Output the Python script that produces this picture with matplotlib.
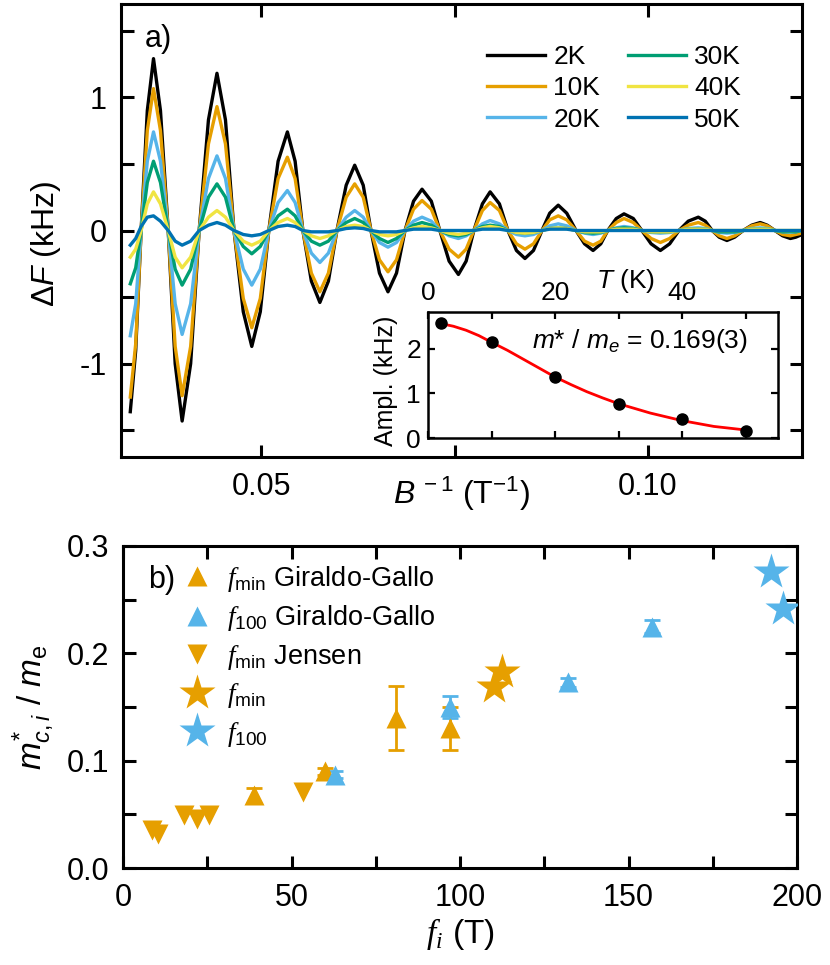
import matplotlib.pyplot as plt
from matplotlib.ticker import MultipleLocator, FormatStrFormatter

plt.rcParams['font.family'] = ['Liberation Sans', 'DejaVu Sans']
plt.rcParams['mathtext.fontset'] = 'custom'
plt.rcParams['mathtext.rm'] = 'Liberation Sans'
plt.rcParams['mathtext.it'] = 'Liberation Sans:italic'
plt.rcParams['mathtext.bf'] = 'Liberation Sans:bold'
plt.rcParams['mathtext.cal'] = 'Liberation Serif:italic'
plt.rcParams['axes.unicode_minus'] = False
plt.rcParams['axes.linewidth'] = 2.2

# ---- panel a) : oscillations (extrema, flanks, zero crossings) ----
inv_b = [0.0331, 0.0338, 0.0345, 0.0353, 0.0361, 0.0370, 0.0380, 0.0389, 0.0398, 0.0409,
         0.0420, 0.0432, 0.0443, 0.0454, 0.0465, 0.0477, 0.0488, 0.0499, 0.0510, 0.0522,
         0.0534, 0.0544, 0.0554, 0.0565, 0.0576, 0.0587, 0.0598, 0.0610, 0.0621, 0.0632,
         0.0642, 0.0653, 0.0664, 0.0675, 0.0686, 0.0697, 0.0708, 0.0720, 0.0731, 0.0743,
         0.0755, 0.0765, 0.0775, 0.0786, 0.0796, 0.0808, 0.0819, 0.0830, 0.0841, 0.0852,
         0.0863, 0.0873, 0.0884, 0.0895, 0.0907, 0.0918, 0.0929, 0.0939, 0.0948, 0.0959,
         0.0969, 0.0981, 0.0992, 0.1004, 0.1016, 0.1028, 0.1040, 0.1052, 0.1065, 0.1074,
         0.1083, 0.1092, 0.1102, 0.1112, 0.1123, 0.1134, 0.1145, 0.1154, 0.1164, 0.1174,
         0.1184, 0.1191, 0.1199]
dF_2K = [-1.36, -0.90, 0,
         0.90, 1.29, 0.90, 0, -1.00, -1.43, -1.00, 0,
         0.83, 1.18, 0.83, 0, -0.61, -0.87, -0.61, 0,
         0.52, 0.74, 0.52, 0, -0.38, -0.54, -0.38, 0,
         0.34, 0.49, 0.34, 0, -0.32, -0.46, -0.32, 0,
         0.22, 0.31, 0.22, 0, -0.23, -0.33, -0.23, 0,
         0.20, 0.29, 0.20, 0, -0.15, -0.21, -0.15, 0,
         0.13, 0.19, 0.13, 0, -0.10, -0.15, -0.10, 0,
         0.09, 0.125, 0.09, 0, -0.10, -0.15, -0.10, 0,
         0.07, 0.10, 0.07, 0, -0.05, -0.075, -0.05, 0,
         0.04, 0.06, 0.04, 0, -0.04, -0.06, -0.05, -0.03]
dF_10K = [-1.25, -0.85, 0,
          0.75, 1.065, 0.75, 0, -0.87, -1.24, -0.87, 0,
          0.65, 0.93, 0.65, 0, -0.51, -0.73, -0.51, 0,
          0.39, 0.55, 0.39, 0, -0.32, -0.46, -0.32, 0,
          0.25, 0.35, 0.25, 0, -0.22, -0.31, -0.22, 0,
          0.16, 0.225, 0.16, 0, -0.14, -0.20, -0.14, 0,
          0.15, 0.21, 0.15, 0, -0.10, -0.14, -0.10, 0,
          0.08, 0.11, 0.08, 0, -0.08, -0.11, -0.08, 0,
          0.06, 0.09, 0.06, 0, -0.06, -0.09, -0.06, 0,
          0.04, 0.06, 0.04, 0, -0.04, -0.06, -0.04, 0,
          0.035, 0.05, 0.035, 0, -0.03, -0.04, -0.03, -0.02]
dF_20K = [-0.79, -0.55, 0,
          0.52, 0.74, 0.52, 0, -0.55, -0.78, -0.55, 0,
          0.39, 0.56, 0.39, 0, -0.29, -0.41, -0.29, 0,
          0.21, 0.30, 0.21, 0, -0.17, -0.24, -0.17, 0,
          0.10, 0.15, 0.10, 0, -0.09, -0.125, -0.09, 0,
          0.07, 0.10, 0.07, 0, -0.04, -0.06, -0.04, 0,
          0.05, 0.075, 0.05, 0, -0.03, -0.04, -0.03, 0,
          0.035, 0.05, 0.035, 0, -0.02, -0.03, -0.02, 0,
          0.02, 0.03, 0.02, 0, -0.015, -0.02, -0.015, 0,
          0.015, 0.02, 0.015, 0, -0.015, -0.02, -0.015, 0,
          0.015, 0.02, 0.015, 0, -0.01, -0.01, -0.01, 0.0]
dF_30K = [-0.40, -0.28, 0,
          0.36, 0.52, 0.36, 0, -0.29, -0.41, -0.29, 0,
          0.25, 0.35, 0.25, 0, -0.12, -0.175, -0.12, 0,
          0.11, 0.16, 0.11, 0, -0.08, -0.11, -0.08, 0,
          0.06, 0.09, 0.06, 0, -0.06, -0.09, -0.06, 0,
          0.04, 0.06, 0.04, 0, -0.03, -0.04, -0.03, 0,
          0.03, 0.04, 0.03, 0, -0.015, -0.02, -0.015, 0,
          0.015, 0.02, 0.015, 0, -0.015, -0.02, -0.015, 0,
          0.015, 0.02, 0.015, 0, -0.01, -0.01, -0.01, 0,
          0.01, 0.01, 0.01, 0, -0.01, -0.01, -0.01, 0,
          0.01, 0.01, 0.01, 0, -0.01, -0.01, -0.01, 0.0]
dF_40K = [-0.20, -0.14, 0,
          0.20, 0.29, 0.20, 0, -0.20, -0.28, -0.20, 0,
          0.10, 0.15, 0.10, 0, -0.08, -0.11, -0.08, 0,
          0.06, 0.09, 0.06, 0, -0.04, -0.06, -0.04, 0,
          0.03, 0.04, 0.03, 0, -0.03, -0.04, -0.03, 0,
          0.02, 0.03, 0.02, 0, -0.02, -0.03, -0.02, 0,
          0.02, 0.03, 0.02, 0, -0.015, -0.02, -0.015, 0,
          0.015, 0.02, 0.015, 0, -0.01, -0.01, -0.01, 0,
          0.01, 0.01, 0.01, 0, -0.01, -0.01, -0.01, 0,
          0.01, 0.01, 0.01, 0, 0.0, 0.0, 0.0, 0,
          0.01, 0.01, 0.01, 0, 0.0, 0.0, 0.0, 0.0]
dF_50K = [-0.11, -0.06, 0.03,
          0.10, 0.11, 0.07, 0, -0.08, -0.11, -0.08, 0,
          0.04, 0.06, 0.04, 0, -0.03, -0.04, -0.03, 0,
          0.03, 0.04, 0.03, 0, -0.01, -0.01, -0.01, 0,
          0.015, 0.02, 0.015, 0, -0.01, -0.01, -0.01, 0,
          0.01, 0.01, 0.01, 0, 0.0, 0.0, 0.0, 0,
          0.01, 0.01, 0.01, 0, 0.0, 0.0, 0.0, 0,
          0.01, 0.01, 0.01, 0, 0.0, 0.0, 0.0, 0,
          0.0, 0.0, 0.0, 0, 0.0, 0.0, 0.0, 0,
          0.0, 0.0, 0.0, 0, 0.0, 0.0, 0.0, 0,
          0.0, 0.0, 0.0, 0, 0.0, 0.0, 0.0, 0.0]
temp_labels = ['2K', '10K', '20K', '30K', '40K', '50K']
curve_colors = ['black', '#E69F00', '#56B4E9', '#009E73', '#F0E442', '#0072B2']

# inset: amplitude vs temperature + fit line
temps_K = [2, 10, 20, 30, 40, 50]
ampl_kHz = [2.59, 2.16, 1.37, 0.77, 0.42, 0.16]
fit_T = [2, 4, 6, 8, 10, 12.5, 15, 17.5, 20, 22.5, 25, 27.5, 30, 35, 40, 45, 50]
fit_A = [2.57, 2.51, 2.42, 2.30, 2.15, 1.97, 1.77, 1.57, 1.37, 1.20, 1.04, 0.90, 0.77, 0.56,
         0.39, 0.26, 0.18]

# ---- panel b) : effective masses ----
gg_min_f = [39, 60, 81, 97]
gg_min_m = [0.068, 0.090, 0.140, 0.130]
gg_min_err = [0.007, 0.003, 0.030, 0.020]
gg_100_f = [63, 97, 132, 157]
gg_100_m = [0.087, 0.150, 0.173, 0.225]
gg_100_err = [0.003, 0.010, 0.004, 0.006]
jensen_f = [8.5, 10.5, 18, 22, 25.5, 53.5]
jensen_m = [0.035, 0.032, 0.049, 0.046, 0.049, 0.071]
star_min_f = [110, 112.5]
star_min_m = [0.169, 0.183]
star_100_f = [192.3, 195.8]
star_100_m = [0.276, 0.241]

orange = '#E69F00'
blue = '#56B4E9'

fig = plt.figure(figsize=(8.3, 9.65), dpi=100)

# ---------------- top panel ----------------
ax1 = fig.add_axes([121/830, 1-457/965, 681/830, 453/965])
series = [dF_2K, dF_10K, dF_20K, dF_30K, dF_40K, dF_50K]
for vals, lab, col in zip(series, temp_labels, curve_colors):
    ax1.plot(inv_b, vals, color=col, lw=2.4, label=lab)
ax1.set_xlim(0.0319, 0.1199)
ax1.set_ylim(-1.7, 1.7)
ax1.xaxis.set_major_locator(MultipleLocator(0.05))
ax1.xaxis.set_minor_locator(MultipleLocator(0.025))
ax1.yaxis.set_major_locator(MultipleLocator(1))
ax1.yaxis.set_minor_locator(MultipleLocator(0.5))
ax1.xaxis.set_major_formatter(FormatStrFormatter('%.2f'))
ax1.yaxis.set_major_formatter(FormatStrFormatter('%d'))
ax1.tick_params(which='both', direction='in', top=True, right=True, length=9, width=2.2,
                labelsize=22)
ax1.tick_params(axis='x', pad=11)
ax1.tick_params(axis='y', pad=10)
ax1.set_xlabel(r'$B^{\,-1}$ (T$^{-1}$)', fontsize=23)
ax1.xaxis.set_label_coords(0.5, -0.04)
ax1.set_ylabel(r'$\Delta F$ (kHz)', fontsize=23)
ax1.yaxis.set_label_coords(-0.085, 0.47)
ax1.text(0.035, 0.955, 'a)', transform=ax1.transAxes, fontsize=22, va='top')
ax1.legend(ncol=2, loc='upper right', bbox_to_anchor=(0.91, 0.91), frameon=False,
           fontsize=19, handlelength=2.2, handletextpad=0.3, labelspacing=0.28,
           columnspacing=1.05, borderpad=0, borderaxespad=0)

# inset
ax2 = fig.add_axes([428/830, 1-438/965, 350/830, 126/965])
ax2.set_facecolor('white')
ax2.plot(fit_T, fit_A, color='red', lw=2, zorder=2)
ax2.plot(temps_K, ampl_kHz, 'o', color='black', ms=8, zorder=3)
ax2.set_xlim(0, 55.1)
ax2.set_ylim(0, 2.83)
ax2.xaxis.set_major_locator(MultipleLocator(20))
ax2.xaxis.set_minor_locator(MultipleLocator(10))
ax2.yaxis.set_major_locator(MultipleLocator(1))
for sp in ax2.spines.values():
    sp.set_linewidth(1.8)
ax2.tick_params(which='both', direction='in', top=True, bottom=True, left=True, right=True,
                labeltop=True, labelbottom=False, length=5, width=1.6, labelsize=19, pad=5)
ax2.xaxis.set_label_position('top')
ax2.set_xlabel(r'$T$ (K)', fontsize=19)
ax2.xaxis.set_label_coords(0.563, 1.19)
ax2.set_ylabel('Ampl. (kHz)', fontsize=18)
ax2.yaxis.set_label_coords(-0.085, 0.45)
ax2.text(0.915, 0.77, r'$m$* / $m_e$ = 0.169(3)', transform=ax2.transAxes, fontsize=19,
         ha='right', va='center')

# ---------------- bottom panel ----------------
ax3 = fig.add_axes([123/830, 1-868/965, 674/830, 322/965])
eb_kw = dict(fmt='none', elinewidth=2, capsize=6, capthick=2, zorder=2)
ax3.errorbar(gg_min_f, gg_min_m, yerr=gg_min_err, ecolor=orange, **eb_kw)
ax3.errorbar(gg_100_f, gg_100_m, yerr=gg_100_err, ecolor=blue, **eb_kw)
ax3.plot(gg_min_f, gg_min_m, ls='none', marker='^', ms=15, color=orange, mec='none',
         label=r'$\mathcal{f}_\mathrm{min}$ Giraldo-Gallo', zorder=3)
ax3.plot(gg_100_f, gg_100_m, ls='none', marker='^', ms=15, color=blue, mec='none',
         label=r'$\mathcal{f}_\mathrm{100}$ Giraldo-Gallo', zorder=3)
ax3.plot(jensen_f, jensen_m, ls='none', marker='v', ms=15, color=orange, mec='none',
         label=r'$\mathcal{f}_\mathrm{min}$ Jensen', zorder=3)
ax3.plot(star_min_f, star_min_m, ls='none', marker='*', ms=27, color=orange, mec='none',
         label=r'$\mathcal{f}_\mathrm{min}$', zorder=3)
ax3.plot(star_100_f, star_100_m, ls='none', marker='*', ms=27, color=blue, mec='none',
         label=r'$\mathcal{f}_\mathrm{100}$', zorder=3)
ax3.set_xlim(0, 200)
ax3.set_ylim(0, 0.3)
ax3.xaxis.set_major_locator(MultipleLocator(50))
ax3.xaxis.set_minor_locator(MultipleLocator(25))
ax3.yaxis.set_major_locator(MultipleLocator(0.1))
ax3.yaxis.set_minor_locator(MultipleLocator(0.05))
ax3.yaxis.set_major_formatter(FormatStrFormatter('%.1f'))
ax3.tick_params(which='both', direction='in', top=True, right=True, length=9, width=2.2,
                labelsize=22)
ax3.tick_params(axis='x', pad=11)
ax3.tick_params(axis='y', pad=10)
ax3.set_xlabel(r'$\mathcal{f}_{\mathcal{i}}$ (T)', fontsize=24)
ax3.xaxis.set_label_coords(0.5, -0.15)
ax3.set_ylabel(r'$m^{*}_{c,i}$ / $m_\mathrm{e}$', fontsize=24)
ax3.yaxis.set_label_coords(-0.1, 0.5)
ax3.text(0.037, 0.895, 'b)', transform=ax3.transAxes, fontsize=22, va='center')
ax3.legend(loc='upper left', bbox_to_anchor=(0.09, 0.945), frameon=False, fontsize=19.5,
           handlelength=1.0, handletextpad=0.6, labelspacing=0.35, borderpad=0,
           borderaxespad=0)

fig.savefig('out.png', dpi=100)
